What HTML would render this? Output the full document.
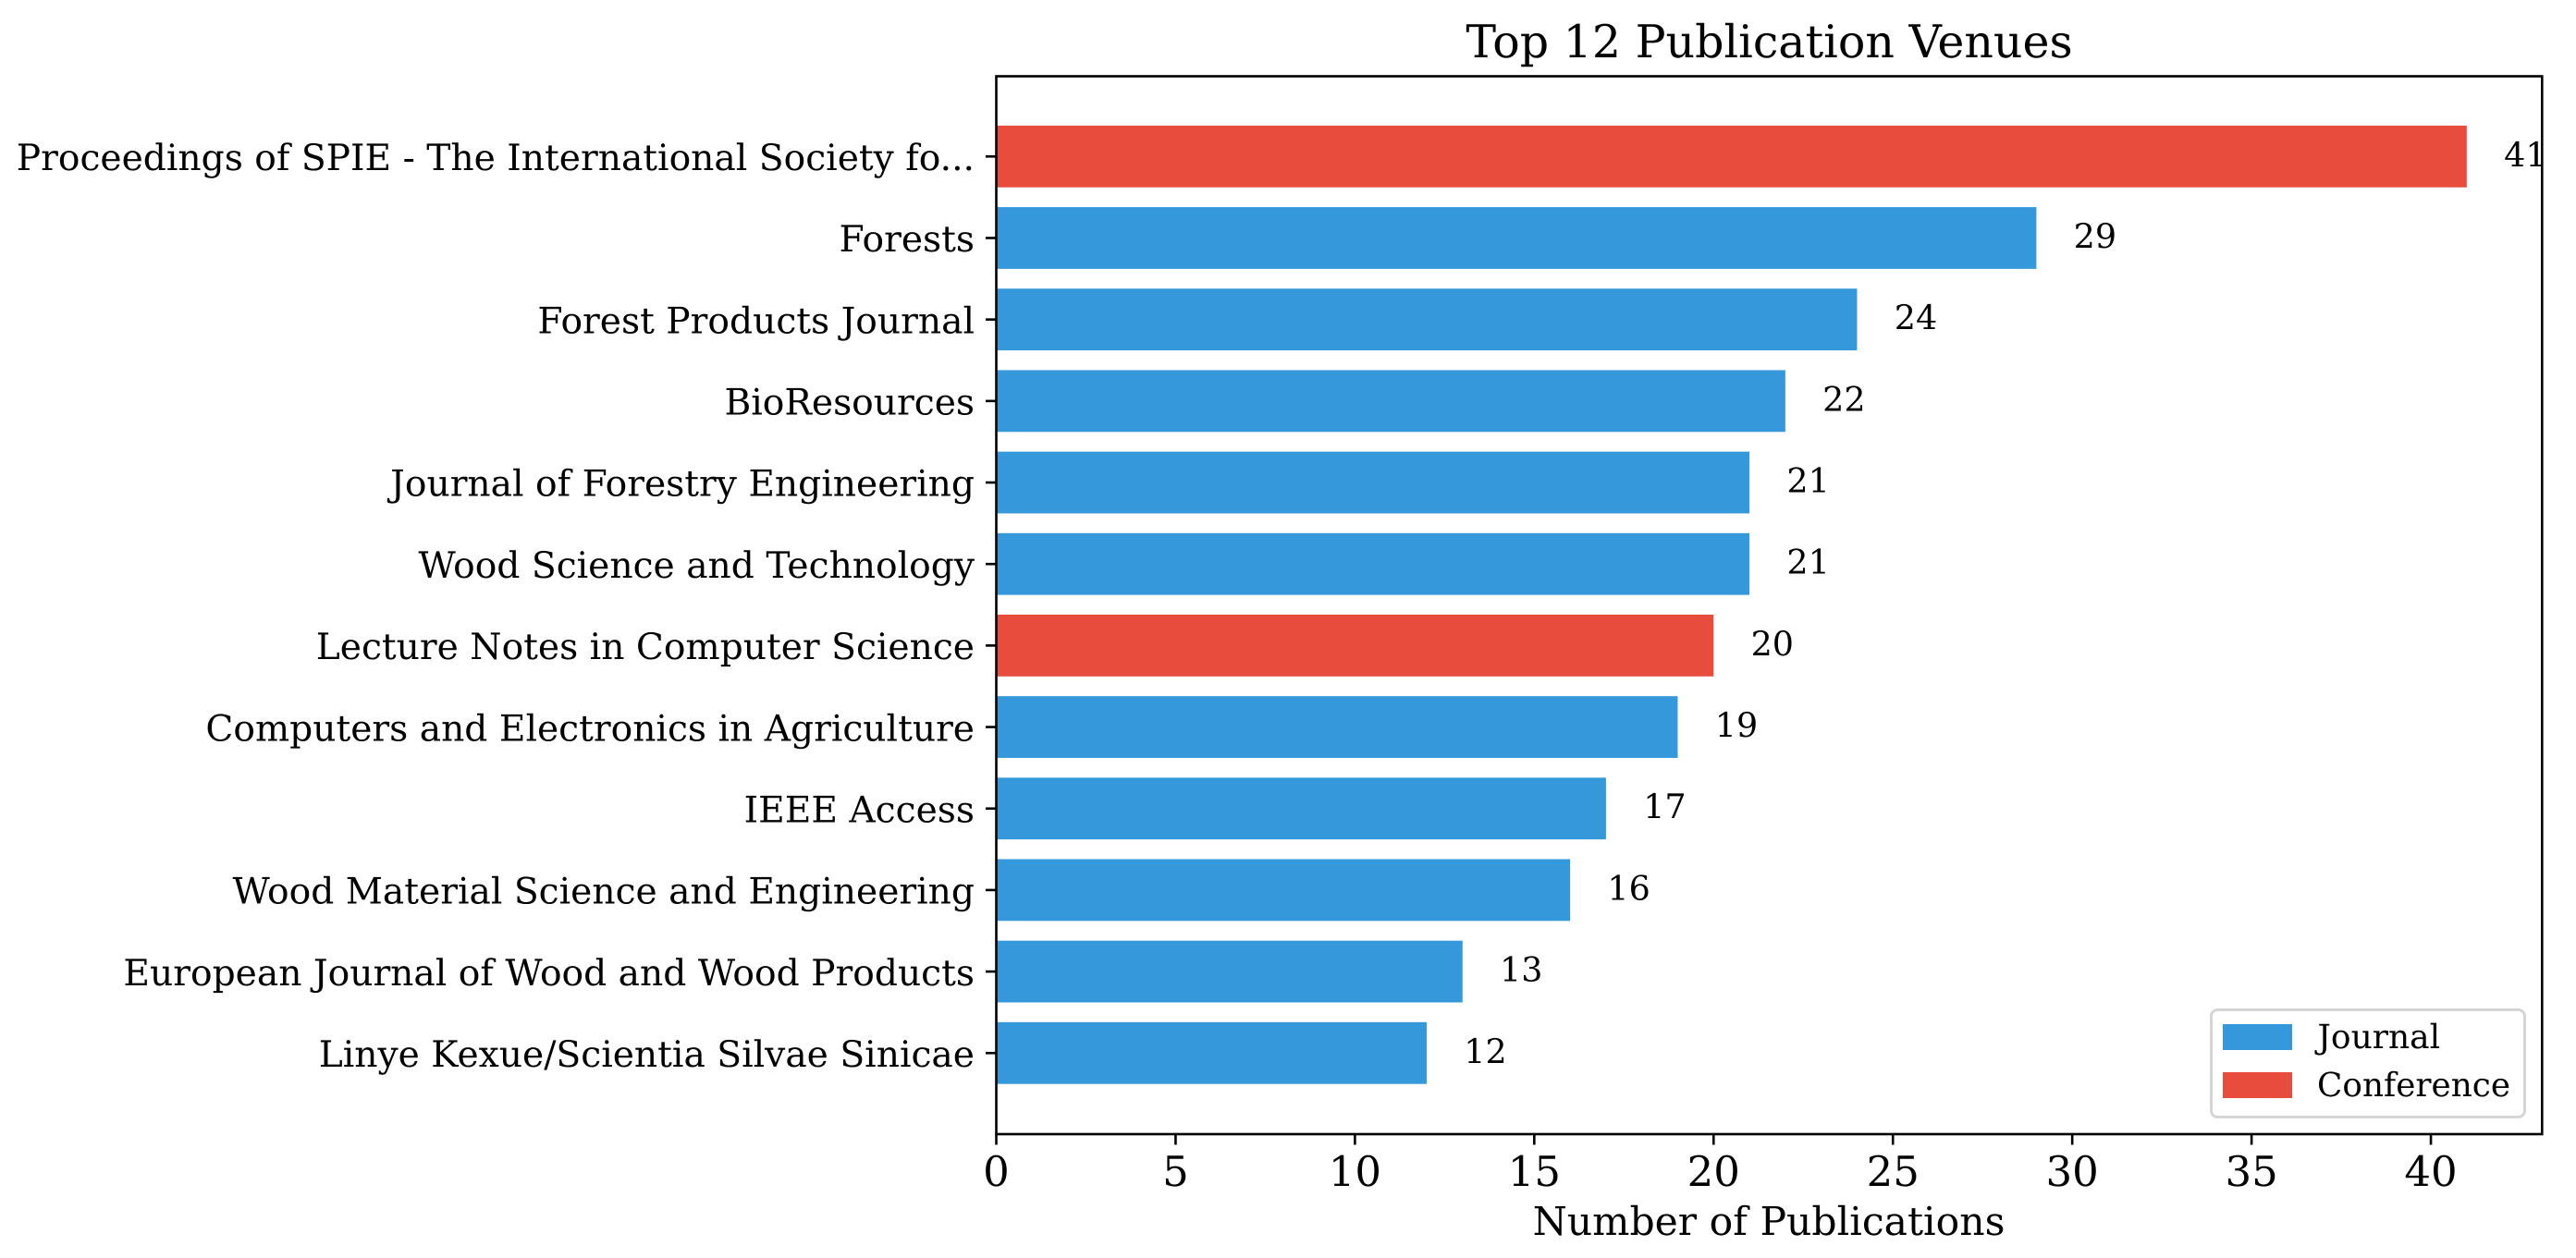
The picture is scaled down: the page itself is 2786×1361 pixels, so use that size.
<!DOCTYPE html>
<html lang="en">
<head>
<meta charset="utf-8">
<title>Top 12 Publication Venues</title>
<style>
html,body{margin:0;padding:0;background:#fff;width:2786px;height:1361px;overflow:hidden}
svg{display:block}
text{font-family:"DejaVu Serif","Liberation Serif",serif;fill:#000;text-rendering:geometricPrecision}
</style>
</head>
<body>
<svg id="chart" xmlns="http://www.w3.org/2000/svg" width="2786" height="1361" viewBox="0 0 2786 1361">
<rect x="0" y="0" width="2786" height="1361" fill="#ffffff"/>
<text id="title" x="1913.5" y="62" text-anchor="middle" font-size="49">Top 12 Publication Venues</text>
<g id="bars"></g>
<g id="value-labels"></g>
<g id="y-axis"></g>
<g id="x-axis"></g>
<rect id="axes-frame" x="1077.5" y="82.5" width="1671.8" height="1144.5" fill="none" stroke="#000" stroke-width="2.6"/>
<text id="x-title" x="1913" y="1336" text-anchor="middle" font-size="42.5">Number of Publications</text>
<g id="legend">
<rect x="2391.5" y="1092.5" width="339" height="116" rx="7" fill="#fff" fill-opacity="0.8" stroke="#d5d5d5" stroke-width="3"/>
<rect x="2404" y="1108" width="75" height="28" fill="#3498db"/>
<text x="2506.5" y="1134" font-size="36">Journal</text>
<rect x="2404" y="1160" width="75" height="28" fill="#e74c3c"/>
<text x="2506" y="1186" font-size="35.8">Conference</text>
</g>
</svg>
<script>
const venues = [
  "Proceedings of SPIE - The International Society fo...",
  "Forests",
  "Forest Products Journal",
  "BioResources",
  "Journal of Forestry Engineering",
  "Wood Science and Technology",
  "Lecture Notes in Computer Science",
  "Computers and Electronics in Agriculture",
  "IEEE Access",
  "Wood Material Science and Engineering",
  "European Journal of Wood and Wood Products",
  "Linye Kexue/Scientia Silvae Sinicae"
];
const publications = [41, 29, 24, 22, 21, 21, 20, 19, 17, 16, 13, 12];
const venueTypes = ["Conference", "Journal", "Journal", "Journal", "Journal", "Journal", "Conference", "Journal", "Journal", "Journal", "Journal", "Journal"];
const xTicks = [0, 5, 10, 15, 20, 25, 30, 35, 40];

const NS = "http://www.w3.org/2000/svg";
const typeColors = { Journal: "#3498db", Conference: "#e74c3c" };
const plot = { left: 1077.5, right: 2749.3, top: 82.5, bottom: 1227 };
const xMax = 43.1;
const yFirst = 169.3;
const yStep = 88.18;
const barHeight = 66.8;

function xScale(v) {
  return plot.left + (v / xMax) * (plot.right - plot.left);
}
function yScale(i) {
  return yFirst + i * yStep;
}
function make(tag, attrs, parent, content) {
  const el = document.createElementNS(NS, tag);
  Object.keys(attrs).forEach(function (k) { el.setAttribute(k, attrs[k]); });
  if (content !== undefined) el.textContent = content;
  parent.appendChild(el);
  return el;
}

const barsG = document.getElementById("bars");
const valuesG = document.getElementById("value-labels");
const yAxisG = document.getElementById("y-axis");
const xAxisG = document.getElementById("x-axis");

venues.forEach(function (venue, i) {
  const value = publications[i];
  const cy = yScale(i);

  const bar = make("rect", {
    x: xScale(0), y: cy - barHeight / 2,
    width: xScale(value) - xScale(0), height: barHeight,
    fill: typeColors[venueTypes[i]]
  }, barsG);
  
  

  const valueLabel = make("text", {
    x: xScale(value + 1) + 1.5, y: cy + 10.5, "font-size": 36.5
  }, valuesG, String(value));
  
  

  const tick = make("line", {
    x1: plot.left - 11.5, x2: plot.left, y1: cy, y2: cy,
    stroke: "#000", "stroke-width": 2.6
  }, yAxisG);
  
  

  const label = make("text", {
    x: 1054, y: cy + 14.7, "text-anchor": "end", "font-size": 39.2
  }, yAxisG, venue);
  
  
});

xTicks.forEach(function (t) {
  const tick = make("line", {
    x1: xScale(t), x2: xScale(t), y1: plot.bottom, y2: plot.bottom + 11.5,
    stroke: "#000", "stroke-width": 2.6
  }, xAxisG);
  
  

  const label = make("text", {
    x: xScale(t), y: 1283, "text-anchor": "middle", "font-size": 45
  }, xAxisG, String(t));
  
  
});
</script>
</body>
</html>
